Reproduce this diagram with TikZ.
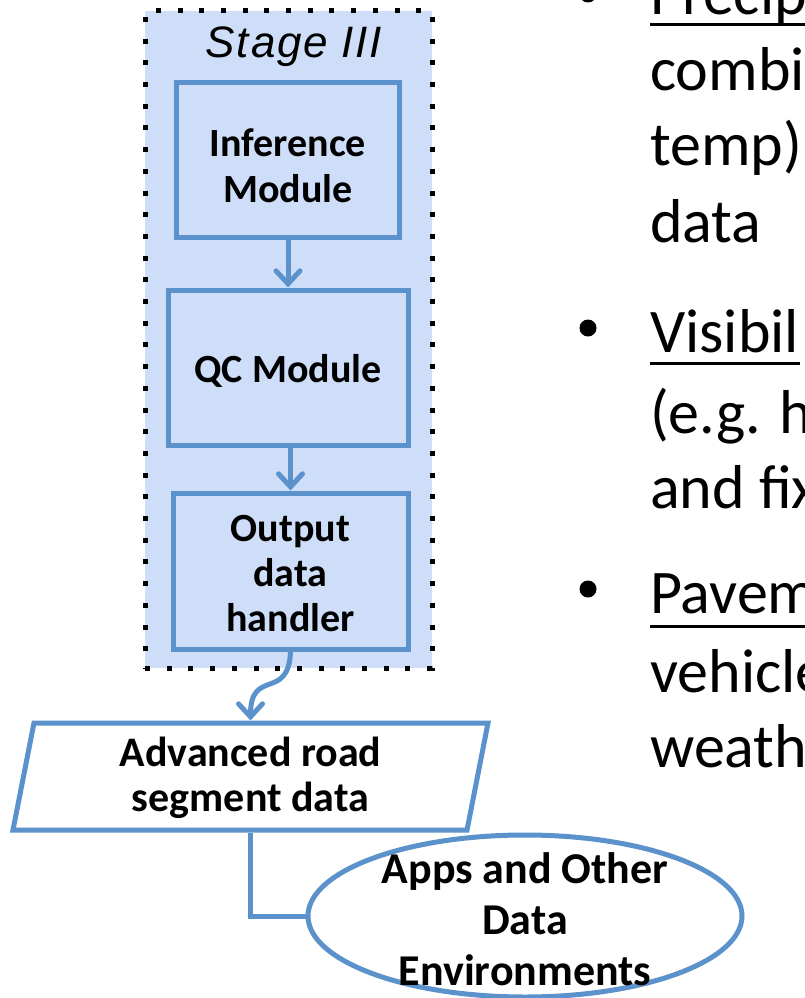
\documentclass[tikz,border=0pt]{standalone}
\usepackage{fontspec}
\setmainfont{Carlito}
\newfontfamily\stagefont[LetterSpace=4]{Liberation Sans}
\usetikzlibrary{shapes.geometric,arrows.meta}
\definecolor{stagefill}{RGB}{206,221,248}
\definecolor{boxblue}{RGB}{92,146,204}
\newcommand\lift[1]{\rule{0pt}{#1}}
\begin{document}
\begin{tikzpicture}[x=1pt,y=-1pt,
  modbox/.style={draw=boxblue,line width=5pt,fill=stagefill,align=center,inner sep=0pt},
  flow/.style={draw=boxblue,line width=5pt},
  arr/.style={flow,-{Straight Barb[length=13pt,width=24pt,line cap=round]}},
  body/.style={anchor=base west,inner sep=0pt,font=\fontsize{62}{75}\selectfont},
  uline/.style={line width=3pt,draw=black},
  bul/.style={circle,fill=black,inner sep=0pt,minimum size=17pt}]
\useasboundingbox (0,0) rectangle (805,998);
\clip (0,0) rectangle (805,998);
\fill[white] (0,0) rectangle (805,998);

% Stage III container
\node[draw=black,fill=stagefill,line width=5pt,dash pattern=on 5pt off 16.7pt,
  minimum width=287pt,minimum height=657pt,inner sep=0pt] (stage) at (288.5,339.5) {};
\node[anchor=base,inner sep=0pt,font=\stagefont\itshape\fontsize{44}{44}\selectfont] (stagelbl) at (294,57) {Stage III};

% modules
\node[modbox,minimum width=223pt,minimum height=155pt,
  font=\fontsize{40}{46}\selectfont\bfseries]
  (inf) at (288,160) {\lift{40pt}Inference\\Module};
\node[modbox,minimum width=240pt,minimum height=155pt,
  font=\fontsize{40}{40}\selectfont\bfseries]
  (qc) at (288,367.5) {\lift{35pt}QC Module};
\node[modbox,minimum width=235pt,minimum height=156pt,
  font=\fontsize{40}{45}\selectfont\bfseries]
  (out) at (290.5,571) {\lift{32pt}Output\\data\\handler};

\draw[arr] (inf.south) -- (inf.south |- qc.north);
\draw[arr] (out.north |- qc.south) -- (out.north);

% advanced road segment data
\node[trapezium,trapezium left angle=76,trapezium right angle=104,trapezium stretches body,
  draw=boxblue,line width=5pt,fill=white,inner sep=0pt,minimum width=475pt,minimum height=107pt,
  align=center,font=\fontsize{42}{45}\selectfont\bfseries]
  (ard) at (250.5,776.5) {\lift{32pt}Advanced road\\segment data};

\draw[arr] (out.south) .. controls +(-2,50) and +(0,-53) .. (ard.north -| ard.center);

% apps ellipse
\node[ellipse,draw=boxblue,line width=5pt,fill=white,inner xsep=0pt,inner ysep=-14pt,
  minimum width=434pt,minimum height=162pt,align=center,
  font=\fontsize{44}{51}\selectfont\bfseries]
  (apps) at (525,916) {\lift{38pt}Apps and Other\\Data\\Environments};

\draw[flow] (ard.south -| ard.center) |- (apps.west);

% right-hand bullet text
\node[bul] (b1) at (588,-6) {};
\node[body] (t1) at (650,15) {Precip};
\draw[uline] (t1.base west) ++(0,10) -- ++(160,0) coordinate (u1);
\node[body] (t2) at (650,90) {combi};
\node[body] (t3) at (650,165) {temp)};
\node[body] (t4) at (650,242) {data};

\node[bul] (b2) at (588,328) {};
\node[body] (t5) at (650,352) {Visibil};
\draw[uline] (t5.base west) ++(0,11) -- ++(150,0) coordinate (u2);
\node[body] (t6) at (650,433) {(e.g. h};
\node[body] (t7) at (650,508) {and fix};

\node[bul] (b3) at (588,589) {};
\node[body] (t8) at (650,613) {Pavem};
\draw[uline] (t8.base west) ++(0,13) -- ++(170,0) coordinate (u3);
\node[body] (t9) at (650,692) {vehicle};
\node[body] (t10) at (650,767) {weath};
\end{tikzpicture}
\end{document}
